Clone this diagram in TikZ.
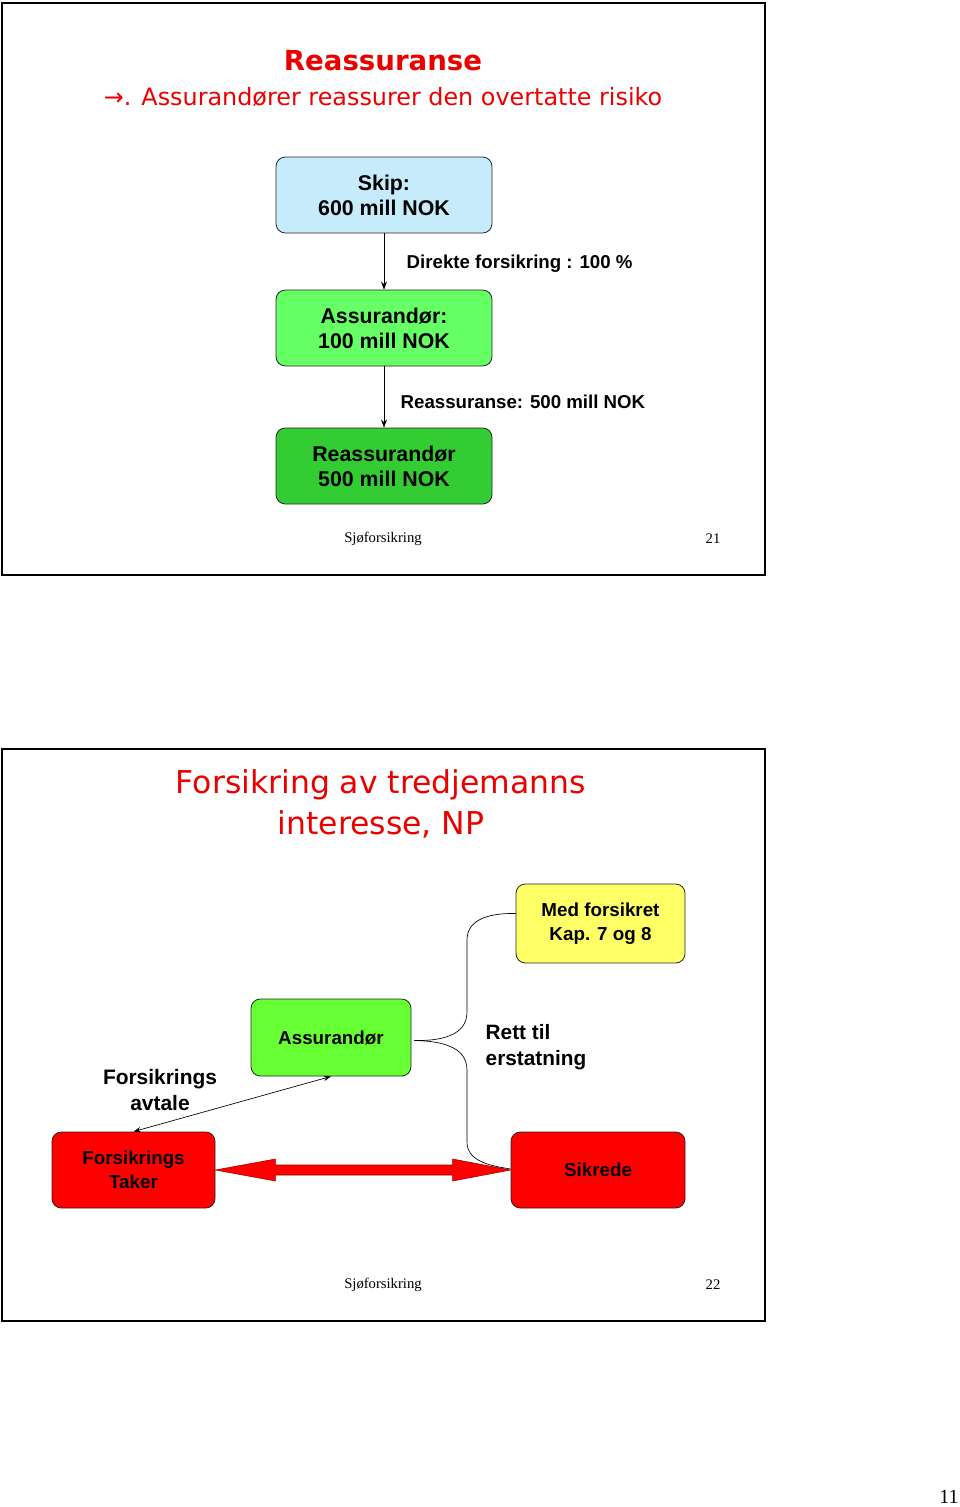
\documentclass[tikz,border=0pt]{standalone}
\usepackage{fontspec}
\setmainfont{Liberation Sans}
\newfontfamily\titlefont{DejaVu Sans}
\newfontfamily\footfont{Liberation Serif}
\usetikzlibrary{arrows.meta,calc}

\definecolor{titlered}{RGB}{235,0,0}
\definecolor{skipblue}{RGB}{198,235,250}
\definecolor{assgreen}{RGB}{102,255,102}
\definecolor{reassgreen}{RGB}{51,204,51}
\definecolor{limegreen}{RGB}{102,255,51}
\definecolor{medyellow}{RGB}{255,255,102}
\definecolor{boxred}{RGB}{255,0,0}
\definecolor{edgered}{RGB}{150,0,0}

\tikzset{
  slide/.style={line width=2pt},
  box/.style={draw=black!85, line width=0.6pt, rounded corners=7pt, align=center,
    font=\bfseries\fontsize{16}{18.75}\selectfont},
  smallbox/.style={box, font=\bfseries\fontsize{14.1}{18}\selectfont},
  lbl/.style={font=\bfseries\fontsize{14}{19}\selectfont},
  footer/.style={font=\footfont\fontsize{11}{13}\selectfont},
  tip/.style={-{Stealth[length=6pt,width=4.4pt]}}
}

\begin{document}
\begin{tikzpicture}[x=0.75pt,y=0.75pt,yscale=-1,xscale=1]
\useasboundingbox (0,0) rectangle (960,1507);

%Slide frames
\draw [slide] (2,3) rectangle (765,575) ;
\draw [slide] (2,749) rectangle (765,1321) ;

% ---- slide 21 ----
% Title
\node (tit1) at (383,61) [text=titlered, font=\titlefont\bfseries\fontsize{20.7}{24}\selectfont] {Reassuranse};
\node (sub1) at (383,97) [text=titlered, font=\titlefont\fontsize{17.9}{22}\selectfont] {→. Assurandører reassurer den overtatte risiko};

% Boxes
\node (skip) at (384,195) [box, fill=skipblue, minimum width=162pt, minimum height=57pt] {Skip:\\600 mill NOK};
\node (assur) at (384,328) [box, fill=assgreen, minimum width=162pt, minimum height=57pt] {Assurandør:\\100 mill NOK};
\node (reass) at (384,466) [box, fill=reassgreen, minimum width=162pt, minimum height=57pt] {Reassurandør\\500 mill NOK};

%Straight Lines
\draw [tip] (skip) -- (assur) ;
\draw [tip] (assur) -- (reass) ;

% Text Node
\node (direkte) at (402,264) [lbl, anchor=west] {Direkte forsikring : 100 \%};
\node (reasslbl) at (396,402) [lbl, anchor=west] {Reassuranse: 500 mill NOK};

% Footer
\node (foot1) at (383,539) [footer] {Sjøforsikring};
\node (num1) at (713,539) [footer] {21};

% ---- slide 22 ----
% Title
\node (tit2) at (381,804) [text=titlered, align=center, font=\titlefont\fontsize{23.6}{30.75}\selectfont] {Forsikring av tredjemanns\\interesse, NP};

% Boxes
\node (med) at (600.5,923.5) [smallbox, fill=medyellow, minimum width=126.75pt, minimum height=59.25pt] {Med forsikret\\Kap. 7 og 8};
\node (assur2) at (331,1037.5) [smallbox, fill=limegreen, minimum width=120pt, minimum height=57.75pt] {Assurandør};
\node (taker) at (133.5,1170) [smallbox, fill=boxred, minimum width=122.25pt, minimum height=57pt] {Forsikrings\\Taker};
\node (sikrede) at (598,1170) [smallbox, fill=boxred, minimum width=130.5pt, minimum height=57pt] {Sikrede};

%Curve Lines (brace)
\draw [line width=0.5pt] ($(assur2.east)+(3,3)$) .. controls (440,1041) and (467,1036) .. (467,1012) -- (467,940)
  .. controls (467,918) and (492,913) .. ($(med.west)+(0,-10)$) ;
\draw [line width=0.5pt] ($(assur2.east)+(3,3)$) .. controls (440,1041) and (467,1046) .. (467,1070) -- (467,1142)
  .. controls (467,1162) and (492,1166) .. ($(sikrede.west)+(0,-1)$) ;

%Straight Lines
\draw [{Stealth[length=5.5pt,width=4pt]}-{Stealth[length=5.5pt,width=4pt]}, line width=0.5pt] (taker.north) -- (assur2.south) ;

% Block arrow
\filldraw [fill=boxred, draw=edgered, line width=0.4pt] (taker.east) -- ++(60,-11) -- ++(0,6)
  -- ($(sikrede.west)+(-58,-5)$) -- ++(0,-6) -- (sikrede.west) -- ++(-58,11) -- ++(0,-6)
  -- ($(taker.east)+(60,5)$) -- ++(0,6) -- cycle ;

% Text Node
\node (avtale) at (160,1090) [align=center, font=\bfseries\fontsize{15.7}{19}\selectfont] {Forsikrings\\avtale};
\node (rett) at (481,1047) [anchor=west, align=left, font=\bfseries\fontsize{15.6}{19.5}\selectfont] {Rett til\\erstatning};

% Footer
\node (foot2) at (383,1285) [footer] {Sjøforsikring};
\node (num2) at (713,1285) [footer] {22};

% Page number
\node (page) at (949,1497) [font=\footfont\fontsize{15}{18}\selectfont] {11};

\end{tikzpicture}
\end{document}
